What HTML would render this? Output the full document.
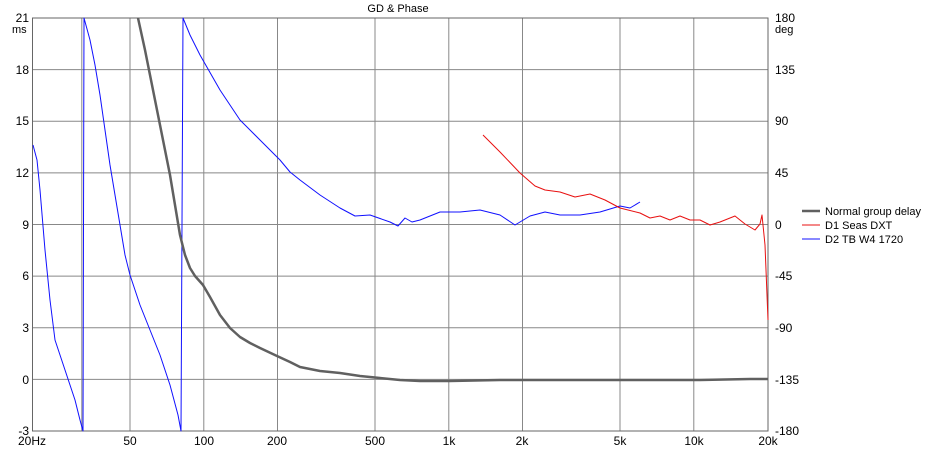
<!DOCTYPE html><html><head><style>body{margin:0;background:#fff}svg{font-family:"Liberation Sans",sans-serif;font-size:12px}</style></head><body>
<svg width="927" height="450" viewBox="0 0 927 450">
<rect width="927" height="450" fill="#fff"/>
<g stroke="#d8d8d8" stroke-width="1" id="minor"></g>
<script>
(function(){var g=document.getElementById('minor'),s='',L=32.5,R=768,T=18,B=431;
function X(f){return L+245*Math.log10(f/20);}
var fs=[30,40,60,70,80,90,300,400,600,700,800,900,3000,4000,6000,7000,8000,9000];
fs.forEach(function(f){var x=X(f);s+='<line x1="'+x+'" y1="'+T+'" x2="'+x+'" y2="'+B+'"/>';});
for(var i=1;i<24;i++){if(i%3==0)continue;var y=T+i*413/24;s+='<line x1="'+L+'" y1="'+y+'" x2="'+R+'" y2="'+y+'"/>';}
g.innerHTML=s;})();
</script>
<g stroke="#888" stroke-width="1">
<line x1="81.8" y1="18" x2="81.8" y2="431"/><line x1="130" y1="18" x2="130" y2="431"/>
<line x1="203.8" y1="18" x2="203.8" y2="431"/><line x1="277.5" y1="18" x2="277.5" y2="431"/><line x1="375" y1="18" x2="375" y2="431"/>
<line x1="448.8" y1="18" x2="448.8" y2="431"/><line x1="522.5" y1="18" x2="522.5" y2="431"/><line x1="620" y1="18" x2="620" y2="431"/>
<line x1="693.8" y1="18" x2="693.8" y2="431"/>
<line x1="32.5" y1="69.6" x2="768" y2="69.6"/><line x1="32.5" y1="121.2" x2="768" y2="121.2"/><line x1="32.5" y1="172.9" x2="768" y2="172.9"/><line x1="32.5" y1="224.5" x2="768" y2="224.5"/><line x1="32.5" y1="276.1" x2="768" y2="276.1"/><line x1="32.5" y1="327.8" x2="768" y2="327.8"/><line x1="32.5" y1="379.4" x2="768" y2="379.4"/>
</g>
<rect x="32.5" y="18" width="735.5" height="413" fill="none" stroke="#666"/>
<g fill="none" stroke-linejoin="round">
<polyline stroke="#1010ff" stroke-width="1" points="33,145 37,160 40,190 45,250 50,300 55,340 60,355 65,370 70,385 75,400 80,420 83,431 84,18 90,40 95,65 100,95 105,130 110,165 115,195 120,225 125,255 130,275 140,305 150,330 160,355 170,385 178,415 181,431 183,18 190,35 200,55 220,90 240,120 260,140 280,160 290,172 300,180 320,195 340,208 355,216 370,215 390,222 398,226 405,218 412,222 420,220 440,212 460,212 480,210 500,215 515,225 530,216 545,212 560,215 580,215 600,212 620,206 630,208 640,202"/>
<polyline stroke="#e81010" stroke-width="1" points="483,135 500,152 520,173 535,186 545,190 560,192 575,197 590,194 605,200 620,208 640,213 650,218 660,216 670,220 680,216 690,220 700,220 710,225 720,222 735,216 745,224 755,230 760,224 762,215 765,245 768,320"/>
<polyline stroke="#606060" stroke-width="2.5" points="138,18 145,50 150,75 155,100 160,125 165,150 170,175 175,205 180,235 185,255 190,268 195,276 203,285 210,297 220,315 230,328 240,337 250,343 260,348 277,356 290,362 300,367 320,371 340,373 360,376 380,378 400,380 420,381 450,381 500,380 550,380 600,380 700,380 750,379 768,379"/>
</g>
<g fill="#000">
<text x="398" y="12" text-anchor="middle" font-size="11">GD &amp; Phase</text>
<g text-anchor="end"><text x="29" y="22">21</text><text x="29" y="74">18</text><text x="29" y="125">15</text><text x="29" y="177">12</text><text x="29" y="229">9</text><text x="29" y="280">6</text><text x="29" y="332">3</text><text x="29" y="384">0</text><text x="29" y="435">-3</text></g>
<text x="12" y="33" font-size="11">ms</text>
<text x="775" y="22">180</text><text x="775" y="33" font-size="11">deg</text><text x="775" y="74">135</text><text x="775" y="125">90</text><text x="775" y="177">45</text><text x="775" y="229">0</text><text x="775" y="280">-45</text><text x="775" y="332">-90</text><text x="775" y="384">-135</text><text x="775" y="435">-180</text>
<g text-anchor="middle"><text x="32" y="445">20Hz</text><text x="130" y="445">50</text><text x="204" y="445">100</text><text x="277" y="445">200</text><text x="375" y="445">500</text><text x="449" y="445">1k</text><text x="522" y="445">2k</text><text x="620" y="445">5k</text><text x="694" y="445">10k</text><text x="768" y="445">20k</text></g>
<g font-size="11">
<line x1="802" y1="211" x2="820" y2="211" stroke="#606060" stroke-width="2.5"/><text x="825" y="215">Normal group delay</text>
<line x1="802" y1="225" x2="820" y2="225" stroke="#e81010"/><text x="825" y="229">D1 Seas DXT</text>
<line x1="802" y1="239" x2="820" y2="239" stroke="#1010ff"/><text x="825" y="243">D2 TB W4 1720</text>
</g>
</g>
</svg></body></html>
